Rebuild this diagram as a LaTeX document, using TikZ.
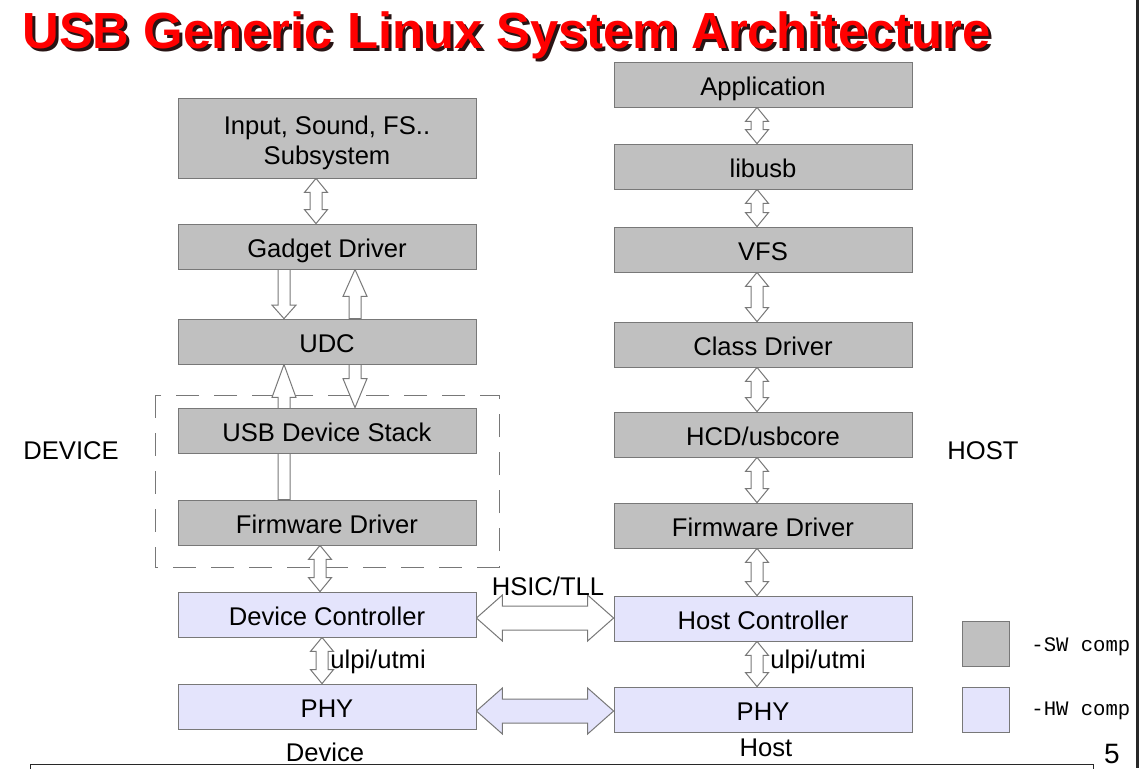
\documentclass[tikz,border=0pt]{standalone}
\usepackage{fontspec}
\setmainfont{Liberation Sans}
\setmonofont{Liberation Mono}
\usetikzlibrary{calc,backgrounds}
\definecolor{gris}{RGB}{192,192,192}
\definecolor{lavanda}{RGB}{228,228,252}
\definecolor{borde}{RGB}{120,120,120}
\definecolor{rojotitulo}{RGB}{255,0,0}
\definecolor{sombra}{RGB}{40,20,20}
\definecolor{marco}{RGB}{40,40,40}

\begin{document}
\begin{tikzpicture}[
  x=0.5pt, y=-0.5pt,
  font=\fontsize{12.8}{15}\selectfont,
  caja/.style={draw=borde, fill=gris, minimum width=149pt,
               minimum height=22.5pt, inner sep=0pt, align=center,
               text height=12pt, text depth=1.5pt},
  cajahw/.style={caja, fill=lavanda},
  etiqueta/.style={inner sep=0pt},
  leyenda/.style={draw=borde, minimum width=23.5pt, minimum height=22.5pt,
                  inner sep=0pt},
  titulo/.style={font=\fontsize{25.4}{30}\selectfont\bfseries, inner sep=0pt,
                 anchor=base west},
  flecha/.style={draw=borde, fill=white, line width=0.5pt},
  flechadoble/.style={to path={let \p1=(\tikztostart), \p2=(\tikztotarget) in
    (\x1,\y1) -- ({\x1+5.75pt},{\y1-7pt}) -- ({\x1+3pt},{\y1-7pt})
    -- ({\x1+3pt},{\y2+7pt}) -- ({\x1+5.75pt},{\y2+7pt}) -- (\x1,\y2)
    -- ({\x1-5.75pt},{\y2+7pt}) -- ({\x1-3pt},{\y2+7pt})
    -- ({\x1-3pt},{\y1-7pt}) -- ({\x1-5.75pt},{\y1-7pt}) -- cycle}},
  flechasimple/.style={to path={let \p1=(\tikztostart), \p2=(\tikztotarget),
    \n1={sign(\y2-\y1)} in
    ({\x1-3pt},\y1) -- ({\x1-3pt},{\y2-\n1*#1}) -- ({\x1-6pt},{\y2-\n1*#1})
    -- (\x1,\y2) -- ({\x1+6pt},{\y2-\n1*#1}) -- ({\x1+3pt},{\y2-\n1*#1})
    -- ({\x1+3pt},\y1) -- cycle}},
  flechahoriz/.style={to path={let \p1=(\tikztostart), \p2=(\tikztotarget) in
    (\x1,\y1) -- ({\x1+13pt},{\y1+11.5pt}) -- ({\x1+13pt},{\y1+6pt})
    -- ({\x2-13pt},{\y1+6pt}) -- ({\x2-13pt},{\y1+11.5pt}) -- (\x2,\y1)
    -- ({\x2-13pt},{\y1-11.5pt}) -- ({\x2-13pt},{\y1-6pt})
    -- ({\x1+13pt},{\y1-6pt}) -- ({\x1+13pt},{\y1-11.5pt}) -- cycle}},
]
\useasboundingbox (0,0) rectangle (1139,768);
\begin{pgfonlayer}{background}
\fill[white] (0,0) rectangle (1139,768);
\end{pgfonlayer}
% ---- Titulo ---------------------------------------------------------------
\node[titulo, text=sombra] (titulosombra) at (25,51)
  {USB Generic Linux System Architecture};
\node[titulo, text=rojotitulo] (titulo) at (22,48)
  {USB Generic Linux System Architecture};
% ---- Device ---------------------------------------------------------------
\node[caja, minimum height=40pt, text height=, text depth=] (subsys)
  at (327,138) {\raisebox{-2.5pt}[\height][\depth]{\begin{tabular}{@{}c@{}}
  Input, Sound, FS..\\Subsystem\end{tabular}}};
\foreach \nombre/\y/\texto in {gadget/246.5/Gadget Driver, udc/341.5/UDC,
                               stack/430.5/USB Device Stack,
                               fwdev/522.5/Firmware Driver} {
  \node[caja] (\nombre) at (327,\y) {\texto};
}
\node[cajahw] (devctl) at (327,614.5) {Device Controller};
\node[cajahw] (phydev) at (327,706.5) {PHY};
% ---- Host -----------------------------------------------------------------
\foreach \nombre/\y/\texto in {app/84.5/Application, libusb/166.5/libusb,
                               vfs/249.5/VFS, clase/344.5/Class Driver,
                               hcd/434.5/{HCD/usbcore},
                               fwhost/525.5/Firmware Driver} {
  \node[caja] (\nombre) at (763,\y) {\texto};
}
\node[cajahw] (hostctl) at (763,618.5) {Host Controller};
\node[cajahw] (phyhost) at (763,709.5) {PHY};
% ---- Flechas --------------------------------------------------------------
\begin{pgfonlayer}{background}
\draw[borde, dash pattern=on 11.5pt off 7.5pt] (155,395) rectangle (499,567);
\draw[flecha, flechadoble] (316,0 |- subsys.south) to (316,0 |- gadget.north);
\draw[flecha, flechasimple=6.75pt] (284,0 |- gadget.south) to (284,0 |- udc.north);
\draw[flecha, flechasimple=13.5pt] (355,0 |- udc.north) to (355,0 |- gadget.south);
\draw[flecha, flechasimple=14.5pt] (355,0 |- udc.south) to (355,0 |- stack.north);
\draw[flecha, flechasimple=16.5pt] (284,0 |- fwdev.north) to (284,0 |- udc.south);
\draw[flecha, flechadoble] (320,0 |- fwdev.south) to (320,0 |- devctl.north);
\draw[flecha, flechadoble] (322,0 |- devctl.south) to (322,0 |- phydev.north);
\foreach \a/\b in {app/libusb, libusb/vfs, vfs/clase, clase/hcd, hcd/fwhost,
                   fwhost/hostctl, hostctl/phyhost} {
  \draw[flecha, flechadoble] (757,0 |- \a.south) to (757,0 |- \b.north);
}
\draw[flecha, flechahoriz] (devctl.east |- 0,618) to (hostctl.west |- 0,618);
\draw[flecha, fill=lavanda, flechahoriz] (phydev.east |- 0,711)
  to (phyhost.west |- 0,711);
\end{pgfonlayer}
% ---- Etiquetas ------------------------------------------------------------
\node[etiqueta] (hsic) at (548,586) {HSIC/TLL};
\node[etiqueta, anchor=west] (ulpidev) at (330,662) {ulpi/utmi};
\node[etiqueta, anchor=west] (ulpihost) at (770,662) {ulpi/utmi};
\node[etiqueta, anchor=west] (device) at (23,451) {DEVICE};
\node[etiqueta] (host) at (983,451) {HOST};
\node[etiqueta] (devicepie) at (325,752) {Device};
\node[etiqueta] (hostpie) at (766,748) {Host};
% ---- Leyenda --------------------------------------------------------------
\node[leyenda, fill=gris] (leyendasw) at (985.5,643.5) {};
\node[leyenda, fill=lavanda] (leyendahw) at (985.5,710) {};
\node[etiqueta, anchor=west, font=\fontsize{10.3}{12}\ttfamily]
  (textosw) at (1031,647) {-SW comp};
\node[etiqueta, anchor=west, font=\fontsize{10.3}{12}\ttfamily]
  (textohw) at (1031,711) {-HW comp};
% ---- Marco ----------------------------------------------------------------
\node[etiqueta, font=\fontsize{14}{16}\selectfont] (pagina) at (1112,754) {5};
\draw[marco] (30,780) -- (30,764) -- (1093,764) -- (1093,780);
\fill[marco] (1136,0) rectangle (1139,768);
\end{tikzpicture}
\end{document}
